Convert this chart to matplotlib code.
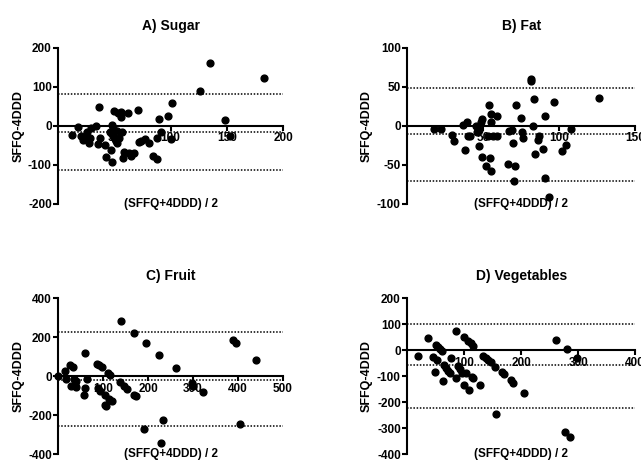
import matplotlib.pyplot as plt

plt.rcParams['font.family'] = ['Liberation Sans', 'DejaVu Sans']
plt.rcParams['font.weight'] = 'bold'
plt.rcParams['axes.unicode_minus'] = False

# Bland-Altman data: mean of the two methods, difference
sugar_mean = [12.8, 18.1, 20.5, 22.3, 24.4, 25.9, 27.6, 28.2, 29.7, 33.9, 36, 35.4, 37.7, 41.9,
              43.1, 47.2, 47.8, 47.8, 46.1, 48.5, 49, 49.9, 50.5, 51.4, 52, 52.6, 53.5, 53.8,
              55.6, 56.2, 56.8, 57.4, 58.5, 62.1, 62.7, 64.8, 67.2, 70.7, 71.6, 73.4, 77, 80.5,
              84.7, 88.3, 88, 89.8, 91.5, 97.5, 100.7, 101.3, 126.6, 135.2, 148.6, 152.5, 183]
sugar_diff = [-23, -3, -27, -36, -30, -17, -44, -32, -5, 0, 48, -46, -30, -50,
              -80, -61, -92, 1, -17, -27, -6, 37, -34, -40, -14, -44, 34, -30,
              22, 36, -16, -83, -68, 32, -70, -77, -70, 41, -41, -40, -34, -44,
              -78, -85, -32, 18, -17, 25, -34, 59, 88, 160, 15, -26, 122]
sugar_lines = [82.5, -15, -114]

fat_mean = [18, 22.6, 29.6, 30.7, 36.9, 38.2, 39.1, 40.4, 41.7, 45.2, 46.1, 47, 47.4, 48.3,
            49.2, 49.6, 51.8, 53.4, 54, 54.5, 54.9, 55.3, 55.3, 56.2, 58.9, 59.3, 66.5, 67,
            68.7, 69.4, 70, 70.7, 71.6, 75.1, 75.5, 76.2, 81.3, 81.5, 83, 83.2, 84.1, 86.1,
            86.5, 89.4, 90.5, 90.9, 93.3, 96.6, 101.9, 104.5, 107.6, 126]
fat_diff = [-3.4, -4.3, -12, -19, 1.3, -31.5, 5, -13.6, -13.6, 0, -8.5, -5, -25.5, 5,
            9.4, -40, -52, -13.6, 26.8, -41.7, 4.3, 15.3, -58, -13.6, 12.8, -12.8, -49.4, -6.8,
            -5, -22, -70, -51, 26.4, 10, -8.5, -16, 60, 58, 0, 35, -36, -18.7,
            -13.6, -29, -67, 12.8, -90.6, 30, -32, -25, -3.8, 35.7]
fat_lines = [48, -11, -70]

fruit_mean = [0, 14.9, 18.6, 27.5, 29, 33.4, 35, 37.9, 39.4, 40.9, 58.7, 60.2, 60.9, 64.6,
              86.9, 88.4, 91.4, 92.9, 97.3, 104, 104.8, 107.7, 111.5, 115.2, 113.7, 118.9,
              136.7, 140.4, 147, 153.8, 168.7, 169.4, 173, 191, 195.4, 225, 228, 234,
              261.5, 298, 301, 321.7, 388, 394.5, 403.4, 440.6]
fruit_diff = [0, 29, -14, 58, -48, 48, -14, -39, -24, -54, -94, -58, 119, -14,
              66, -61, 58, -75, 48, -95, -145, -153, 17, 7, -116, -124,
              -31, 283, -51, -65, 223, -95, -102, -269, 170, 111, -340, -226,
              41, -34, -48, -78, 187, 174, -243, 83]
fruit_lines = [228, -17, -257]

veg_mean = [19.9, 37.5, 45.7, 49.8, 50.4, 52.7, 54.5, 58.6, 60.9, 63.3, 64.4, 68, 71.5, 75,
            77.3, 85.5, 86.7, 89, 92.7, 97.2, 99.6, 100.7, 103, 107.2, 109, 111.3, 113, 114.8,
            116, 127.7, 133.5, 137.6, 141.7, 146.4, 153.5, 155.2, 166.3, 169.9, 181.6, 185,
            205, 261.2, 280, 298.7, 277.6, 285.8]
veg_diff = [-22, 47, -24, -83, 21, -38, 13, 4, -4, -119, -58, -68, -79, -88,
            -31, -106, 76, -60, -73, -86, 53, -135, -86, 37, -153, 29, -103, 19,
            -108, -135, -22, -29, -37, -45, -63, -246, -83, -92, -115, -127,
            -165, 42, 6, -29, -313, -332]
veg_lines = [102.6, -58, -220]

panels = [
    ('A) Sugar', sugar_mean, sugar_diff, sugar_lines, 200, [50, 100, 150, 200], (-200, 200), [-200, -100, 0, 100, 200]),
    ('B) Fat', fat_mean, fat_diff, fat_lines, 150, [50, 100, 150], (-100, 100), [-100, -50, 0, 50, 100]),
    ('C) Fruit', fruit_mean, fruit_diff, fruit_lines, 500, [100, 200, 300, 400, 500], (-400, 400), [-400, -200, 0, 200, 400]),
    ('D) Vegetables', veg_mean, veg_diff, veg_lines, 400, [100, 200, 300, 400], (-400, 200), [-400, -300, -200, -100, 0, 100, 200]),
]

fig = plt.figure(figsize=(6.41, 4.61), dpi=100)
rects = [[0.0905, 0.5575, 0.351, 0.339], [0.635, 0.5575, 0.356, 0.339],
         [0.0905, 0.0145, 0.351, 0.338], [0.635, 0.0145, 0.356, 0.338]]

for i, (title, xm, yd, lines, xmax, xt, ylim, yt) in enumerate(panels):
    ax = fig.add_axes(rects[i])
    ax.scatter(xm, yd, s=24, color='black', zorder=3, clip_on=False)
    for v in lines:
        ax.plot([0, xmax], [v, v], color='black', lw=1.1, linestyle=(0, (1, 1.1)), clip_on=False)
    ax.set_xlim(0, xmax)
    ax.set_ylim(*ylim)
    ax.spines['top'].set_visible(False)
    ax.spines['right'].set_visible(False)
    ax.spines['bottom'].set_position(('data', 0))
    ax.spines['bottom'].set_linewidth(1.5)
    ax.spines['left'].set_linewidth(1.5)
    ax.set_xticks(xt)
    ax.set_yticks(yt)
    ax.tick_params(axis='both', direction='out', length=3.5, width=1.5, labelsize=8.5, pad=1)
    ax.set_title(title, fontsize=10, fontweight='bold', pad=13)
    ax.set_ylabel('SFFQ-4DDD', fontsize=9, fontweight='bold')
    ax.yaxis.set_label_coords(-0.15, 0.5)
    ax.text(0.5, 0.0, '(SFFQ+4DDD) / 2', transform=ax.transAxes, ha='center', va='center',
            fontsize=8.5, fontweight='bold')
    ax.set_facecolor('none')

plt.savefig('out.png', dpi=100)
